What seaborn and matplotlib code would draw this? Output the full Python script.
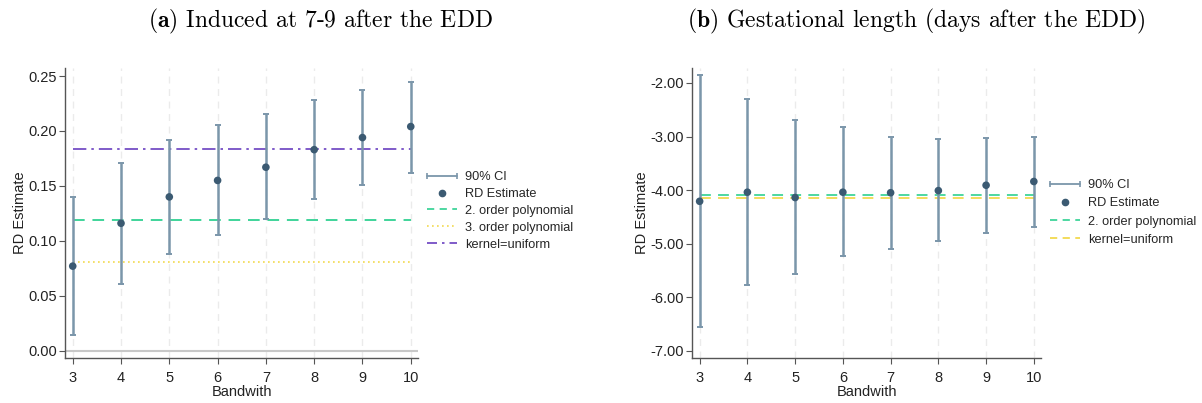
import matplotlib
matplotlib.use("Agg")
import matplotlib.pyplot as plt
import matplotlib.lines as mlines
import seaborn as sns
import pandas as pd
from matplotlib.lines import Line2D
from matplotlib.legend_handler import HandlerBase

sns.set_theme(style="white")
plt.rcParams["font.family"] = ["Liberation Sans", "DejaVu Sans"]
plt.rcParams["mathtext.fontset"] = "cm"

# Bandwidths used for the RD estimates
bandwidth = [3, 4, 5, 6, 7, 8, 9, 10]

# Panel (a): induced at 7-9 days after the EDD
est_a = [0.077, 0.116, 0.140, 0.155, 0.167, 0.183, 0.194, 0.204]
lo_a = [0.014, 0.061, 0.088, 0.105, 0.120, 0.138, 0.151, 0.162]
hi_a = [0.140, 0.171, 0.192, 0.205, 0.215, 0.228, 0.237, 0.245]
poly2_a = 0.119
poly3_a = 0.081
uniform_a = 0.184

# Panel (b): gestational length (days after the EDD)
est_b = [-4.21, -4.04, -4.14, -4.04, -4.05, -4.01, -3.91, -3.84]
lo_b = [-6.56, -5.78, -5.57, -5.24, -5.10, -4.96, -4.80, -4.69]
hi_b = [-1.86, -2.30, -2.70, -2.83, -3.00, -3.04, -3.02, -3.00]
poly2_b = -4.10
uniform_b = -4.145

CI_COLOR = "#7b96aa"
PT_COLOR = "#3b5a72"
GREEN = "#3fd49a"
YELLOW = "#f2d94e"
PURPLE = "#6a40c0"
TICK_FONT = 10.5

fig = plt.figure(figsize=(12.02, 4.03), dpi=100)
ax_a = fig.add_axes([65 / 1202, 1 - 358 / 403, (418 - 65) / 1202, (358 - 68) / 403])
ax_b = fig.add_axes([692 / 1202, 1 - 358 / 403, (1041 - 692) / 1202, (358 - 68) / 403])


def draw_panel(ax, est, lo, hi, refs, ylim, yticks):
    df = pd.DataFrame({"bw": bandwidth, "est": est, "lo": lo, "hi": hi})
    for x in bandwidth:
        ax.axvline(x, color="#ebebeb", lw=1.0, ls=(0, (5, 4)), zorder=0)
    ax.errorbar(df["bw"], df["est"],
                yerr=[df["est"] - df["lo"], df["hi"] - df["est"]],
                fmt="none", ecolor=CI_COLOR, elinewidth=1.8, capsize=2.5,
                capthick=1.4, zorder=2)
    sns.scatterplot(data=df, x="bw", y="est", ax=ax, color=PT_COLOR, s=30,
                    edgecolor="none", zorder=3, legend=False)
    for value, color, ls, lw in refs:
        ax.plot([bandwidth[0], bandwidth[-1]], [value, value], color=color,
                ls=ls, lw=lw, zorder=1)
    ax.set_xlim(2.84, 10.15)
    ax.set_ylim(*ylim)
    ax.set_xticks(bandwidth)
    ax.set_yticks(yticks)
    ax.set_yticklabels([f"{t:.2f}" for t in yticks])
    ax.tick_params(axis="both", which="both", length=4, width=0.8, color="#555555",
                   labelsize=TICK_FONT, labelcolor="#222222", bottom=True, left=True)
    ax.tick_params(axis="y", pad=2)
    ax.tick_params(axis="x", pad=5)
    ax.set_xlabel("Bandwith", fontsize=TICK_FONT, color="#222222", labelpad=0)
    ax.set_ylabel("RD Estimate", fontsize=TICK_FONT, color="#222222", labelpad=1)
    for side in ["top", "right"]:
        ax.spines[side].set_visible(False)
    for side in ["left", "bottom"]:
        ax.spines[side].set_color("#555555")
        ax.spines[side].set_linewidth(1.0)


draw_panel(ax_a, est_a, lo_a, hi_a,
           [(poly2_a, GREEN, (0, (6, 4)), 1.4),
            (poly3_a, YELLOW, (0, (1, 2)), 1.2),
            (uniform_a, PURPLE, (0, (8, 3, 1.5, 3)), 1.2)],
           (-0.0066, 0.2573), [0.00, 0.05, 0.10, 0.15, 0.20, 0.25])
ax_a.axhline(0, color="#c8c8c8", lw=1.5, zorder=0)

draw_panel(ax_b, est_b, lo_b, hi_b,
           [(uniform_b, YELLOW, (0, (6, 4)), 1.3),
            (poly2_b, GREEN, (0, (6, 4)), 1.3)],
           (-7.137, -1.72), [-7.0, -6.0, -5.0, -4.0, -3.0, -2.0])


class CIKey:
    pass


class HandlerCI(HandlerBase):
    def create_artists(self, legend, orig_handle, xdescent, ydescent, width,
                       height, fontsize, trans):
        y = height / 2 - ydescent
        line = mlines.Line2D([-xdescent, -xdescent + width], [y, y],
                             color=CI_COLOR, lw=1.3, transform=trans)
        caps = mlines.Line2D([-xdescent, -xdescent + width], [y, y],
                             color=CI_COLOR, ls="none", marker="|",
                             markersize=5, mew=1.2, transform=trans)
        return [line, caps]


pt_h = Line2D([], [], color=PT_COLOR, marker="o", ls="none", markersize=4.5)

legend_kw = dict(frameon=False, fontsize=9.2, handlelength=2.35, handletextpad=0.6,
                 borderaxespad=0, borderpad=0, loc="upper left",
                 handler_map={CIKey: HandlerCI()})

handles_a = [CIKey(), pt_h,
             Line2D([], [], color=GREEN, ls=(0, (4, 3)), lw=1.3),
             Line2D([], [], color=YELLOW, ls=(0, (1, 2)), lw=1.2),
             Line2D([], [], color=PURPLE, ls=(0, (6, 3, 1.5, 3)), lw=1.2)]
labels_a = ["90% CI", "RD Estimate", "2. order polynomial", "3. order polynomial",
            "kernel=uniform"]
fig.legend(handles_a, labels_a, bbox_to_anchor=(427 / 1202, 1 - 171 / 403),
           labelspacing=0.39, **legend_kw)

handles_b = [CIKey(), pt_h,
             Line2D([], [], color=GREEN, ls=(0, (4, 3)), lw=1.3),
             Line2D([], [], color=YELLOW, ls=(0, (4, 3)), lw=1.3)]
labels_b = ["90% CI", "RD Estimate", "2. order polynomial", "kernel=uniform"]
fig.legend(handles_b, labels_b, bbox_to_anchor=(1050 / 1202, 1 - 179 / 403),
           labelspacing=0.49, **legend_kw)

title_kw = dict(fontsize=17, family="cmr10", ha="center", va="center", color="black")
fig.text(320 / 1202, 1 - 21 / 403, r"$\mathbf{(a)}$ Induced at 7-9 after the EDD", **title_kw)
fig.text(916 / 1202, 1 - 21 / 403, r"$\mathbf{(b)}$ Gestational length (days after the EDD)",
         **title_kw)

fig.savefig("out.png", dpi=100)
